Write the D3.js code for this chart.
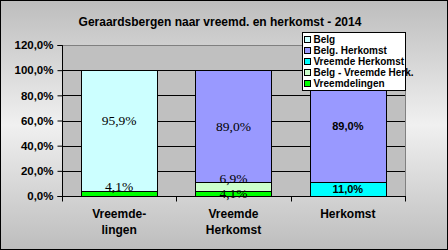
<!DOCTYPE html>
<html>
<head>
<meta charset="utf-8">
<script src="https://cdn.jsdelivr.net/npm/d3@7"></script>
<style>
  body { margin: 0; }
  svg { display: block; }
</style>
</head>
<body>
<div id="chart"></div>
<script>
// Data (percentages)
var categories = ["Vreemdelingen", "Vreemde Herkomst", "Herkomst"];
var tickLabels = [["Vreemde-", "lingen"], ["Vreemde", "Herkomst"], ["Herkomst"]];
var seriesNames = ["Vreemdelingen", "Belg - Vreemde Herk.", "Vreemde Herkomst", "Belg. Herkomst", "Belg"];
var vreemdelingen = [4.1, 4.1, 0];
var belgVreemdeHerk = [0, 6.9, 0];
var vreemdeHerkomst = [0, 0, 11.0];
var belgHerkomst = [0, 89.0, 89.0];
var belg = [95.9, 0, 0];
var yTicks = [0, 20, 40, 60, 80, 100, 120];

var colors = {
    "Vreemdelingen": "#00ff00",
    "Belg - Vreemde Herk.": "#ccffcc",
    "Vreemde Herkomst": "#00ffff",
    "Belg. Herkomst": "#9999ff",
    "Belg": "#ccffff"
};

// labels that were moved a bit in the original (dy in px)
var nudge = {"0|Belg": -10, "0|Vreemdelingen": -7, "1|Belg - Vreemde Herk.": -8.5};

var width = 448, height = 250;
var plot = {left: 62, right: 405, top: 45, bottom: 196};

var svg = d3.select("#chart")
    .append("svg")
        .attr("width", width)
        .attr("height", height);

// background gradient
var grad = svg.append("defs").append("linearGradient")
    .attr("id", "bg")
    .attr("x1", 0).attr("y1", 0).attr("x2", 0).attr("y2", 1);
grad.append("stop").attr("offset", "0%").attr("stop-color", "#bdbdbd");
grad.append("stop").attr("offset", "50%").attr("stop-color", "#f0f0f0");
grad.append("stop").attr("offset", "100%").attr("stop-color", "#bdbdbd");

svg.append("rect")
    .attr("width", width).attr("height", height)
    .attr("fill", "url(#bg)")
    .attr("stroke", "#000").attr("stroke-width", 2);

// title
svg.append("text")
    .attr("x", 220).attr("y", 26)
    .attr("text-anchor", "middle")
    .style("font-family", "Arial, 'Liberation Sans', sans-serif")
    .style("font-size", "12px")
    .style("font-weight", "bold")
    .text("Geraardsbergen naar vreemd. en herkomst - 2014");

// build table for the stack
var table = categories.map(function(c, i) {
    return {
        cat: c,
        "Vreemdelingen": vreemdelingen[i],
        "Belg - Vreemde Herk.": belgVreemdeHerk[i],
        "Vreemde Herkomst": vreemdeHerkomst[i],
        "Belg. Herkomst": belgHerkomst[i],
        "Belg": belg[i]
    };
});
var stacked = d3.stack().keys(seriesNames)(table);

var x = d3.scaleBand()
    .domain(categories)
    .range([plot.left, plot.right])
    .paddingInner(1 / 3)
    .paddingOuter(1 / 6);

var y = d3.scaleLinear()
    .domain([0, 120])
    .range([plot.bottom, plot.top]);

// plot area
svg.append("rect")
    .attr("x", plot.left).attr("y", plot.top)
    .attr("width", plot.right - plot.left)
    .attr("height", plot.bottom - plot.top)
    .attr("fill", "#c0c0c0");
svg.append("path")
    .attr("d", "M" + plot.left + "," + (plot.top + 0.5) + "H" + (plot.right + 0.5) + "V" + plot.bottom)
    .attr("fill", "none")
    .attr("stroke", "#808080");

// gridlines
svg.append("g")
    .selectAll("line")
    .data(yTicks.filter(function(t) { return t > 0 && t < 120; }))
    .enter()
    .append("line")
    .attr("x1", plot.left).attr("x2", plot.right)
    .attr("y1", function(d) { return Math.round(y(d)) + 0.5; })
    .attr("y2", function(d) { return Math.round(y(d)) + 0.5; })
    .attr("stroke", "#000");

// bars
var layer = svg.append("g").selectAll("g")
    .data(stacked)
    .enter()
    .append("g")
    .attr("fill", function(d) { return colors[d.key]; });

layer.selectAll("rect")
    .data(function(d) { return d.filter(function(p) { return p[1] - p[0] > 0; }); })
    .enter()
    .append("rect")
    .attr("x", function(d) { return Math.round(x(d.data.cat)) + 0.5; })
    .attr("y", function(d) { return Math.round(y(d[1])) + 0.5; })
    .attr("width", Math.round(x.bandwidth()))
    .attr("height", function(d) { return Math.round(y(d[0])) - Math.round(y(d[1])); })
    .attr("stroke", "#000")
    .attr("stroke-width", 1);

// y axis
var yAxis = svg.append("g")
    .attr("transform", "translate(" + (plot.left + 0.5) + ",0)")
    .call(d3.axisLeft(y).tickValues(yTicks).tickSize(5).tickPadding(4)
        .tickFormat(function(d) { return d.toFixed(1).replace(".", ",") + "%"; }));
yAxis.select(".domain").attr("d", "M-5," + (plot.top + 0.5) + "H0V" + (plot.bottom + 0.5) + "H-5");
yAxis.selectAll("text")
    .style("font-family", "Arial, 'Liberation Sans', sans-serif")
    .style("font-size", "11.5px")
    .style("font-weight", "bold")
    .attr("fill", "#000");

// x axis
var xAxis = svg.append("g")
    .attr("transform", "translate(0," + (plot.bottom + 0.5) + ")");
xAxis.append("line")
    .attr("x1", plot.left).attr("x2", plot.right + 1)
    .attr("stroke", "#000");
var bounds = [plot.left].concat(categories.map(function(c) { return x(c) + x.bandwidth() + x.step() * x.paddingInner() / 2; }));
xAxis.selectAll(".xt")
    .data(bounds)
    .enter()
    .append("line")
    .attr("class", "xt")
    .attr("x1", function(d) { return Math.round(d) + 0.5; })
    .attr("x2", function(d) { return Math.round(d) + 0.5; })
    .attr("y1", 0).attr("y2", 5)
    .attr("stroke", "#000");

var xLab = xAxis.selectAll(".xl")
    .data(categories)
    .enter()
    .append("text")
    .attr("class", "xl")
    .attr("text-anchor", "middle")
    .attr("x", function(d) { return x(d) + x.bandwidth() / 2; })
    .attr("y", 21)
    .style("font-family", "Arial, 'Liberation Sans', sans-serif")
    .style("font-size", "12px")
    .style("font-weight", "bold");
xLab.selectAll("tspan")
    .data(function(d, i) { return tickLabels[i]; })
    .enter()
    .append("tspan")
    .attr("x", function() { return d3.select(this.parentNode).attr("x"); })
    .attr("dy", function(d, i) { return i === 0 ? 0 : 16; })
    .text(function(d) { return d; });

// data labels
var labels = [];
stacked.forEach(function(s) {
    s.forEach(function(p, i) {
        if (p[1] - p[0] > 0) labels.push({key: s.key, i: i, p: p});
    });
});
svg.append("g").selectAll("text")
    .data(labels)
    .enter()
    .append("text")
    .attr("text-anchor", "middle")
    .attr("x", function(d) { return x(categories[d.i]) + x.bandwidth() / 2; })
    .attr("y", function(d) {
        return y((d.p[0] + d.p[1]) / 2) + (nudge[d.i + "|" + d.key] || 0);
    })
    .attr("dy", "0.35em")
    .style("font-family", function(d) {
        return d.i === 2 ? "Arial, 'Liberation Sans', sans-serif" : "'Times New Roman', 'Liberation Serif', serif";
    })
    .style("font-size", function(d) { return d.i === 2 ? "11px" : "13.5px"; })
    .style("font-weight", function(d) { return d.i === 2 ? "bold" : "normal"; })
    .text(function(d) { return (d.p[1] - d.p[0]).toFixed(1).replace(".", ",") + "%"; });

// legend
var legend = svg.append("g").attr("transform", "translate(302.5,32.5)");
legend.append("rect")
    .attr("width", 103).attr("height", 58)
    .attr("fill", "#fff").attr("stroke", "#000");
var item = legend.selectAll(".li")
    .data(seriesNames.slice().reverse())
    .enter()
    .append("g")
    .attr("class", "li")
    .attr("transform", function(d, i) { return "translate(0," + (4 + i * 11) + ")"; });
item.append("rect")
    .attr("x", 2).attr("y", 0)
    .attr("width", 6).attr("height", 6)
    .attr("fill", function(d) { return colors[d]; })
    .attr("stroke", "#000");
item.append("text")
    .attr("x", 11).attr("y", 3)
    .attr("dy", "0.35em")
    .style("font-family", "Arial, 'Liberation Sans', sans-serif")
    .style("font-size", "10px")
    .style("font-weight", "bold")
    .text(function(d) { return d; });
</script>
</body>
</html>
